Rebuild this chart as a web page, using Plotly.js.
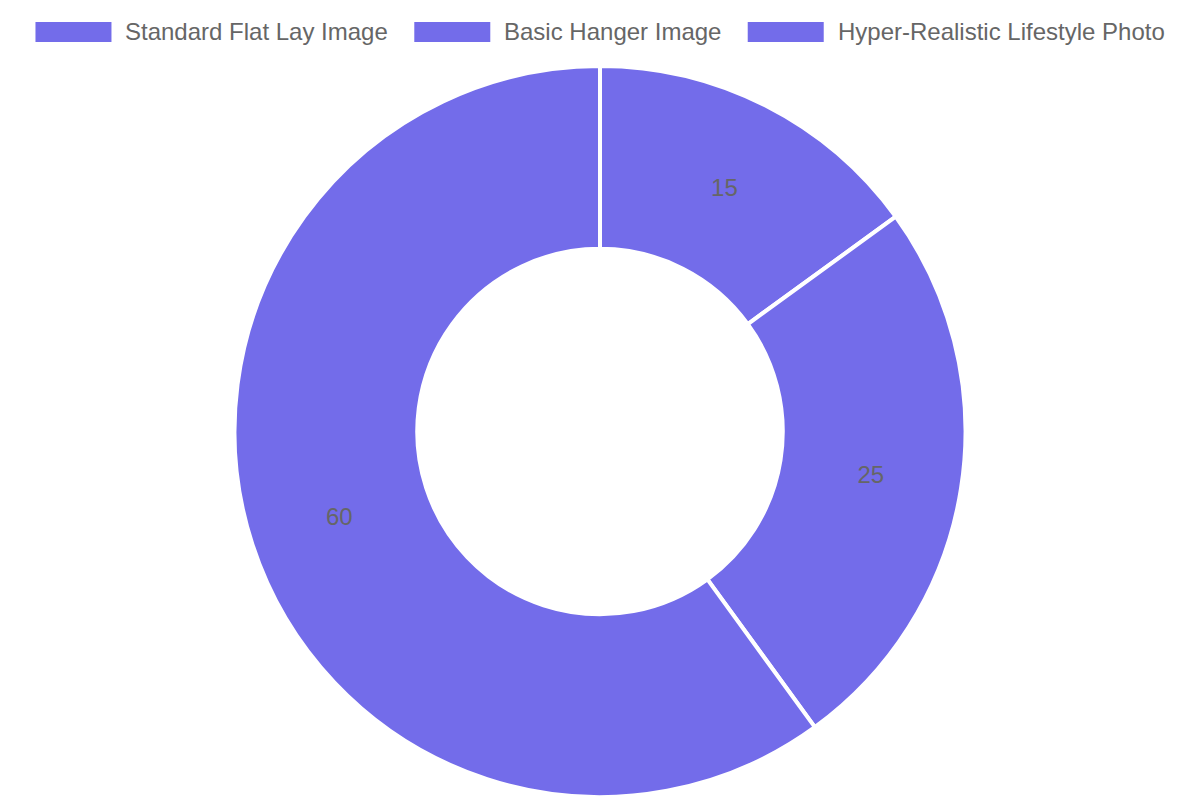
<!DOCTYPE html>
<html>
<head>
<meta charset="utf-8">
<script src="https://cdn.plot.ly/plotly-3.0.1.min.js"></script>
<style>
  html, body { margin: 0; padding: 0; background: #fff; }
  #chart { width: 1200px; height: 800px; }
</style>
</head>
<body>
<div id="chart"></div>
<script>
var labels = ["Standard Flat Lay Image", "Basic Hanger Image", "Hyper-Realistic Lifestyle Photo"];
var values = [15, 25, 60];
var sliceColor = "#736cea";

var fontFamily = "Liberation Sans, Arial, sans-serif";
var textColor = "#666666";

var W = 1200, H = 800, mTop = 66, mBot = 3;
var plotH = H - mTop - mBot;
// page y (px from top) -> paper coordinate
function py(y) { return (H - mBot - y) / plotH; }

// legend drawn chart.js style: wide boxes, centred row at the top
var canvas = document.createElement("canvas");
var ctx = canvas.getContext("2d");
ctx.font = "24px 'Liberation Sans'";
var boxW = 76, boxGap = 12, textPad = 2, itemGap = 26;
var widths = labels.map(function(l) { return ctx.measureText(l).width; });
var total = 0;
widths.forEach(function(w, i) {
  total += boxW + boxGap + textPad + w + (i > 0 ? itemGap : 0);
});
var shapes = [], annotations = [];
var cx = (W - total) / 2;
labels.forEach(function(l, i) {
  shapes.push({
    type: "rect", xref: "paper", yref: "paper",
    x0: cx / W, x1: (cx + boxW) / W,
    y0: py(42), y1: py(22),
    fillcolor: sliceColor, line: {width: 0}
  });
  annotations.push({
    text: l, showarrow: false, xref: "paper", yref: "paper",
    x: (cx + boxW + boxGap) / W, xanchor: "left",
    y: py(32), yanchor: "middle",
    font: {family: fontFamily, size: 24, color: textColor}
  });
  cx += boxW + boxGap + textPad + widths[i] + itemGap;
});

var trace = {
  type: "pie",
  labels: labels,
  values: values,
  hole: 0.5,
  sort: false,
  direction: "clockwise",
  rotation: 0,
  marker: {
    colors: labels.map(function() { return sliceColor; }),
    line: {color: "#ffffff", width: 4}
  },
  textinfo: "value",
  textposition: "inside",
  insidetextorientation: "horizontal",
  textfont: {family: fontFamily, size: 24, color: textColor},
  hoverinfo: "label+value",
  showlegend: false
};

var layout = {
  width: W,
  height: H,
  margin: {t: mTop, b: mBot, l: 0, r: 0},
  paper_bgcolor: "#ffffff",
  showlegend: false,
  shapes: shapes,
  annotations: annotations
};

Plotly.newPlot("chart", [trace], layout, {displayModeBar: false});
</script>
</body>
</html>
